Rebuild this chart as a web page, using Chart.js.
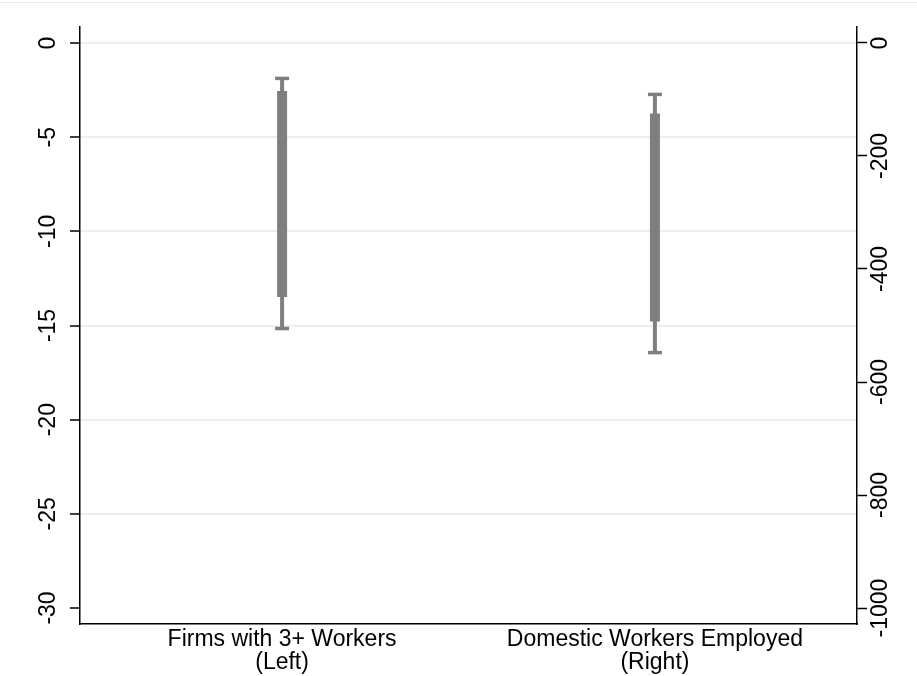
<!DOCTYPE html>
<html>
<head>
<meta charset="utf-8">
<script src="https://cdn.jsdelivr.net/npm/chart.js@4"></script>
<style>
    body { margin: 0; background: #fff; }
    .wrap { position: relative; width: 917px; height: 676px; }
    .topline { position: absolute; left: 0; top: 2px; width: 917px; height: 1px; background: #e6eeee; }
</style>
</head>
<body>
<div class="wrap">
    <div class="topline"></div>
    <canvas id="grafico" width="917" height="676"></canvas>
</div>
<script>
const categorias = ['Firms with 3+ Workers', 'Domestic Workers Employed'];
const subtitulos = ['(Left)', '(Right)'];
const posiciones = [1, 2];
const ejes = ['yIzq', 'yDer'];

// 95% interval (thin whisker) and 90% interval (thick bar)
const ic95Bajo = [-15.16, -548];
const ic95Alto = [-1.88, -91];
const ic90Bajo = [-13.49, -493];
const ic90Alto = [-2.55, -125];

const ticksIzq = [0, -5, -10, -15, -20, -25, -30];
const ticksDer = [0, -200, -400, -600, -800, -1000];

const gris = '#7f7f7f';
const fuente = { family: '"Liberation Sans", Arial, sans-serif', size: 23, lineHeight: 1.0 };

const datasets = [];
posiciones.forEach((x, i) => {
    datasets.push({
        data: [{ x: x, y: ic95Bajo[i] }, { x: x, y: ic95Alto[i] }],
        yAxisID: ejes[i], showLine: true, borderColor: gris, borderWidth: 4,
        pointRadius: 0, borderCapStyle: 'butt'
    });
    datasets.push({
        data: [{ x: x, y: ic90Bajo[i] }, { x: x, y: ic90Alto[i] }],
        yAxisID: ejes[i], showLine: true, borderColor: gris, borderWidth: 10,
        pointRadius: 0, borderCapStyle: 'butt'
    });
    datasets.push({
        data: [{ x: x, y: ic95Bajo[i] }, { x: x, y: ic95Alto[i] }],
        yAxisID: ejes[i], showLine: false, pointStyle: 'line', pointRadius: 7,
        borderColor: gris, backgroundColor: gris, pointBorderWidth: 3.5
    });
});

new Chart(document.getElementById('grafico').getContext('2d'), {
    type: 'scatter',
    data: { datasets: datasets },
    options: {
        responsive: false,
        animation: false,
        events: [],
        layout: { padding: { left: 37, right: 7, top: 27, bottom: -2 } },
        plugins: { legend: { display: false }, tooltip: { enabled: false } },
        scales: {
            x: {
                type: 'linear',
                min: 0.458,
                max: 2.542,
                afterBuildTicks: axis => { axis.ticks = posiciones.map(v => ({ value: v })); },
                ticks: {
                    autoSkip: false, maxRotation: 0, minRotation: 0, padding: 4, color: '#000', font: fuente,
                    callback: v => {
                        const i = posiciones.indexOf(v);
                        return i >= 0 ? [categorias[i], subtitulos[i]] : '';
                    }
                },
                grid: { display: false, drawTicks: false },
                border: { display: true, color: '#000', width: 1.5 }
            },
            yIzq: {
                type: 'linear',
                position: 'left',
                min: -30.85,
                max: 0.85,
                afterBuildTicks: axis => { axis.ticks = ticksIzq.map(v => ({ value: v })); },
                ticks: {
                    minRotation: 90, maxRotation: 90, crossAlign: 'center', padding: 5,
                    color: '#000', font: fuente, autoSkip: false,
                    callback: v => String(v)
                },
                grid: {
                    color: ctx => (ctx.tick && ctx.tick.value === -30 ? 'rgba(0,0,0,0)' : '#e8f0f1'),
                    lineWidth: 2, tickColor: '#000', tickLength: 10, tickWidth: 1.5
                },
                border: { display: true, color: '#000', width: 1.5 }
            },
            yDer: {
                type: 'linear',
                position: 'right',
                min: -1028.3,
                max: 28.3,
                afterBuildTicks: axis => { axis.ticks = ticksDer.map(v => ({ value: v })); },
                afterFit: axis => { axis.width = 53; },
                ticks: {
                    minRotation: 90, maxRotation: 90, crossAlign: 'center', padding: -15.5,
                    color: '#000', font: fuente, autoSkip: false,
                    callback: v => String(v)
                },
                grid: { drawOnChartArea: false, tickColor: '#000', tickLength: 10, tickWidth: 1.5 },
                border: { display: true, color: '#000', width: 1.5 }
            }
        }
    }
});
</script>
</body>
</html>
